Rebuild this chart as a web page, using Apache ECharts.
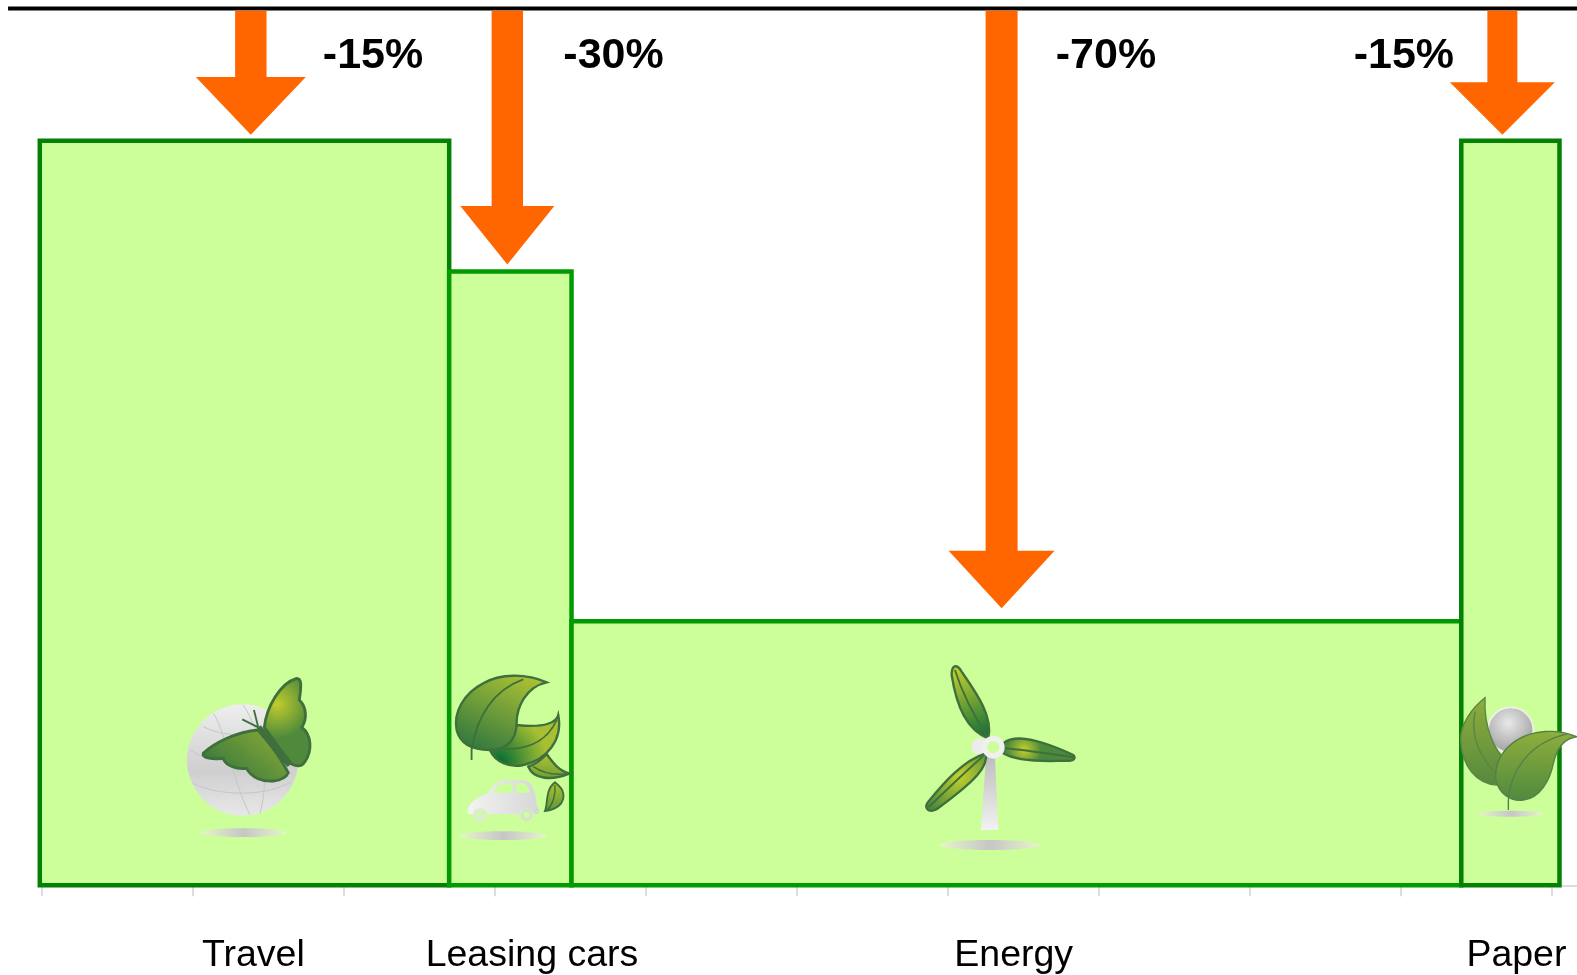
<!DOCTYPE html>
<html><head><meta charset="utf-8">
<style>html,body{margin:0;padding:0;background:#fff}#c{width:1577px;height:975px}</style>
<script src="https://cdn.jsdelivr.net/npm/echarts@6/dist/echarts.min.js"></script>
</head><body><div id="c"></div>
<script>
const categories = ['Travel', 'Leasing cars', 'Energy', 'Paper'];
const barStart = [-0.01, 2.70, 3.51, 9.40];
const barEnd = [2.70, 3.51, 9.40, 10.05];
const barValue = [84.9, 70, 30.1, 84.9];
const reductions = ['-15%', '-30%', '-70%', '-15%'];
const arrowX = [1.387, 3.085, 6.357, 9.672];
const arrowTip = [85.6, 70.8, 31.6, 85.6];
const reductionX = [2.196, 3.788, 7.048, 9.02];
const categoryX = [1.404, 3.248, 6.437, 9.765];
const tickValues = [0, 1, 2, 3, 4, 5, 6, 7, 8, 9, 10];
const iconX = [1.337, 3.058, 6.28, 9.727];
const iconY = [6.0, 5.66, 4.6, 8.16];

const xMax = 10.166, topValue = 100, topLineFrom = -0.22;
const reductionY = 94.5, categoryY = -8.05;
const barStroke = ['#048004', '#029a02', '#029a02', '#048004'];
const arrowHeadHalf = [55, 47, 53, 52.5], arrowHeadH = [57.7, 58.5, 57.5, 52.5], arrowShaftHalf = [15.7, 15.7, 16, 15];

const grad = (x, y, x2, y2, a, b) => ({type:'linear', x, y, x2, y2, colorStops:[{offset:0,color:a},{offset:1,color:b}]});
const rad = (x, y, r, a, b) => ({type:'radial', x, y, r, colorStops:[{offset:0,color:a},{offset:1,color:b}]});
const GS = '#3f6f3c';
const p = (d, fill, stroke, lw) => ({type:'path', shape:{pathData:d}, style:{fill: fill||'none', stroke: stroke||'none', lineWidth: (lw||0)*1.4}});
const shadow = (cx, cy, rx, ry) => ({type:'ellipse', shape:{cx, cy, rx, ry}, style:{fill:{type:'linear',x:0,y:0,x2:1,y2:0,colorStops:[{offset:0,color:'#e6f5c8'},{offset:.5,color:'#c6c6c6'},{offset:1,color:'#e6f5c8'}]}}});
const circle = (cx, cy, r, fill, stroke, lw) => ({type:'circle', shape:{cx, cy, r}, style:{fill, stroke: stroke||'none', lineWidth: lw||0}});
const BG = '#ccff99';
const globeFill = {type:'linear',x:0,y:0,x2:0,y2:1,colorStops:[{offset:0,color:'#eeeeee'},{offset:.6,color:'#cfcfcf'},{offset:1,color:'#e8e8e8'}]};

const icons = [
 {ax:220, ay:548, parts:[
   shadow(220,548,128,13),
   circle(218,330,167, globeFill),
   p('M60,300 C130,350 300,350 380,290 M70,400 C150,440 290,440 365,395 M130,190 C170,250 190,400 240,495 M220,165 C280,260 300,380 270,490 M100,230 C180,270 290,260 340,200','none','#c4c4c4',2),
   p('M283,232 C290,170 330,100 380,85 C395,85 395,105 388,150 C410,170 412,205 396,232 C425,255 428,300 405,335 C395,350 380,350 365,342 C340,310 310,270 283,232Z', rad(.3,.3,.7,'#c0cc2c','#4f8a3c'), GS, 6),
   p('M265,240 C200,245 130,280 100,310 C95,325 130,328 160,325 C165,345 200,360 230,355 C245,385 280,395 310,393 C335,390 350,380 355,368 C330,320 300,280 265,240Z', grad(.8,0,.3,1,'#86a837','#3a7a3c'), GS, 6),
   p('M265,232 L360,345', 'none', GS, 14),
   p('M265,232 L252,180 M265,232 L217,208', 'none', GS, 4)
 ]},
 {ax:1000, ay:557, parts:[
   shadow(1000,557,130,13),
   p('M893,482 C895,455 930,440 955,430 C970,400 985,390 1020,390 L1060,390 C1085,392 1098,420 1100,465 L1108,480 L1104,493 L1093,493 A24,24 0 0 0 1047,493 L955,493 A24,24 0 0 0 908,493 L896,493Z', grad(0,0,1,0,'#f3f3f3','#d6d6d6')),
   p('M970,428 C980,405 990,400 1028,400 L1028,428Z M1038,400 L1060,400 C1070,403 1078,415 1080,428 L1038,428Z', '#ccff99'),
   circle(931,495,14,'#ccff99','#e4e4e4',9), circle(1070,495,14,'#ccff99','#dcdcdc',9),
   p('M1165,195 C1160,215 1130,235 1040,225 C1030,260 1000,295 960,300 C975,335 1020,355 1060,345 C1130,330 1180,270 1165,195Z', rad(.15,.9,.9,'#006b33','#a8bf33'), GS, 5),
   p('M970,295 C1060,305 1130,280 1160,210', 'none', GS, 4),
   p('M1130,97 C1070,70 990,70 940,100 C880,130 850,190 860,240 C870,280 900,300 960,300 C1010,300 1040,270 1040,220 C1040,170 1070,110 1130,97Z', grad(.7,0,.3,1,'#a8bf33','#357a3f'), GS, 5),
   p('M905,330 L905,300 C920,200 970,120 1060,88', 'none', GS, 4),
   p('M1075,350 C1090,385 1140,395 1200,370 C1170,365 1150,340 1130,312 C1110,335 1090,345 1075,350Z', grad(.5,0,.5,1,'#b0c52f','#6f9e36'), GS, 5),
   p('M1090,350 C1120,370 1150,378 1195,370', 'none', GS, 3),
   p('M1155,397 C1125,420 1135,460 1125,483 C1160,480 1185,460 1180,430 C1178,415 1165,405 1155,397Z', grad(.5,0,.5,1,'#b0c52f','#5c943a'), GS, 4),
   p('M1155,405 C1158,430 1150,465 1130,481', 'none', GS, 3)
 ]},
 {ax:270, ay:585, parts:[
   shadow(270,585,150,15),
   p('M258,320 L285,320 L295,540 L243,540Z', grad(.5,0,.5,1,'#bdbdbd','#f2f2f2')),
   circle(240,290,25,'#ececec'),
   p('M265,265 C200,240 170,170 155,75 C155,45 170,40 185,65 C230,130 280,200 265,265Z', grad(.1,.1,.8,1,'#bccb2e','#0f6f38'), GS, 5),
   p('M165,60 C190,140 230,210 262,260', 'none', GS, 4),
   p('M310,280 C340,255 400,260 520,315 C530,325 520,335 500,332 C430,335 350,335 310,310Z', rad(.3,.5,.7,'#c3d02c','#4c8a3b'), GS, 5),
   p('M315,295 C380,300 450,312 520,322', 'none', GS, 4),
   p('M258,310 C265,350 230,390 110,478 C85,490 70,475 85,455 C130,400 190,330 258,310Z', rad(.55,.4,.7,'#c3d02c','#4c8a3b'), GS, 5),
   p('M250,318 C190,370 130,430 85,472', 'none', GS, 4),
   circle(280,292,26,BG,'#f0f0f0',16)
 ]},
 {ax:512, ay:401, parts:[
   shadow(512,401,98,9),
   circle(512,150,68, rad(.45,.35,.65,'#e8e8e8','#9f9f9f'),'#f1f1f1',5),
   p('M435,53 C400,80 360,130 362,180 C365,260 410,310 470,315 L500,240 C470,220 430,150 435,53Z', grad(.5,0,.5,1,'#8fae3c','#55893e'), '#5a8547', 3),
   p('M405,95 C390,170 420,235 470,280', 'none', '#5a8547', 3),
   p('M710,170 C650,145 580,150 530,180 C485,210 465,250 467,295 C475,340 510,365 550,360 C600,355 630,300 640,250 C650,205 670,175 710,170Z', grad(.5,0,.5,1,'#90ae3c','#4f8a3e'), '#55804a', 3),
   p('M505,390 L505,360 C510,280 560,190 680,162', 'none', '#55804a', 3)
 ]}
];

const chart = echarts.init(document.getElementById('c'), null, {renderer:'canvas'});
chart.setOption({
  animation:false,
  backgroundColor:'#fff',
  grid:{left:41.3, right:0, top:8.4, bottom:89.7},
  xAxis:{type:'value', min:0, max:xMax, interval:1, splitLine:{show:false}, axisLabel:{show:false},
    axisLine:{show:true, lineStyle:{color:'#dddddd', width:2}},
    axisTick:{show:true, customValues:tickValues, length:11, lineStyle:{color:'#dddddd', width:2}}},
  yAxis:{type:'value', min:0, max:topValue, show:false, splitLine:{show:false}},
  series:[
   {type:'custom', silent:true, z:2, data:barValue.map((v,i)=>[barStart[i],barEnd[i],v]),
    renderItem(params, api){
      const i = params.dataIndex;
      const a = api.coord([api.value(0), 0]), b = api.coord([api.value(1), api.value(2)]);
      return {type:'rect', shape:{x:a[0], y:b[1], width:b[0]-a[0], height:a[1]-b[1]},
        style:{fill:'#ccff99', stroke:barStroke[i], lineWidth:4.5}};
    }},
   {type:'custom', silent:true, z:3, data:[[topLineFrom, xMax]],
    renderItem(params, api){
      const a = api.coord([api.value(0), topValue]), b = api.coord([api.value(1), topValue]);
      return {type:'line', shape:{x1:a[0], y1:a[1], x2:b[0], y2:b[1]}, style:{stroke:'#000', lineWidth:4}};
    }},
   {type:'custom', silent:true, z:4, data:arrowX.map((x,i)=>[x,arrowTip[i]]),
    renderItem(params, api){
      const i = params.dataIndex;
      const t = api.coord([api.value(0), api.value(1)]), top = api.coord([api.value(0), topValue]);
      const s = arrowShaftHalf[i], h = arrowHeadHalf[i], hy = t[1]-arrowHeadH[i], x = t[0];
      return {type:'polygon', shape:{points:[[x-s,top[1]+2],[x+s,top[1]+2],[x+s,hy],[x+h,hy],[x,t[1]],[x-h,hy],[x-s,hy]]},
        style:{fill:'#ff6600'}};
    }},
   {type:'custom', silent:true, z:5, data:iconX.map((x,i)=>[x,iconY[i]]),
    renderItem(params, api){
      const ic = icons[params.dataIndex];
      const c = api.coord([api.value(0), api.value(1)]);
      return {type:'group', x:c[0]-ic.ax/3, y:c[1]-ic.ay/3, scaleX:1/3, scaleY:1/3, children:ic.parts};
    }},
   {type:'custom', silent:true, z:6, data:reductions.map((t,i)=>[reductionX[i], reductionY]),
    renderItem(params, api){
      const c = api.coord([api.value(0), api.value(1)]);
      return {type:'text', x:c[0], y:c[1], style:{text:reductions[params.dataIndex], fill:'#000',
        font:'bold 43px "Liberation Sans", Arial, sans-serif', align:'center', verticalAlign:'middle'}};
    }},
   {type:'custom', silent:true, z:6, data:categories.map((t,i)=>[categoryX[i], categoryY]),
    renderItem(params, api){
      const c = api.coord([api.value(0), api.value(1)]);
      return {type:'text', x:c[0], y:c[1], style:{text:categories[params.dataIndex], fill:'#000',
        font:'37.5px "Liberation Sans", Arial, sans-serif', align:'center', verticalAlign:'middle'}};
    }}
  ]
});
</script></body></html>
